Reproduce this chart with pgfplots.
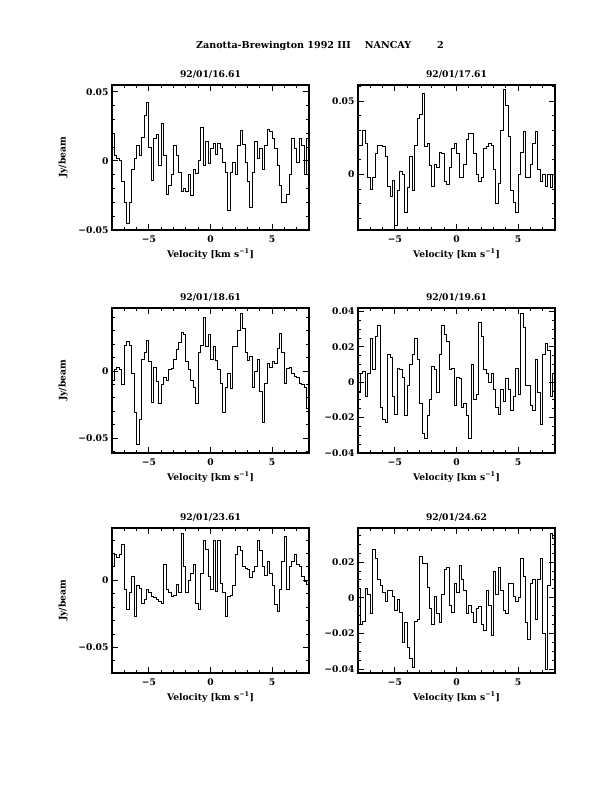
\documentclass[border=0pt]{standalone}
\usepackage{fontspec}
\setmainfont{DejaVu Serif}
\usepackage{pgfplots}
\pgfplotsset{compat=1.18}

\pgfplotsset{
  spec/.style={
    width=197bp, height=145bp, scale only axis,
    anchor=south west,
    xmin=-8, xmax=8,
    xtick={-5,0,5}, xticklabels={−5,0,5},
    minor xtick={-8,-7,...,8},
    xtick pos=both, ytick pos=both,
    xticklabel pos=lower, yticklabel pos=left,
    scaled y ticks=false,
    tick align=inside,
    major tick length=6bp, minor tick length=3bp,
    every tick/.style={black, line width=0.9pt},
    axis line style={line width=1.3pt},
    tick label style={font=\bfseries\fontsize{9.2}{10}\selectfont},
    xticklabel style={yshift=-2.5bp},
    label style={font=\bfseries\fontsize{9.2}{10}\selectfont},
    title style={font=\bfseries\fontsize{9.2}{10}\selectfont, yshift=-3bp},
    xlabel={Velocity [km s\textsuperscript{−1}]},
    xlabel style={yshift=1bp},
    ylabel style={yshift=4bp},
  },
  spec line/.style={const plot, black, line width=0.9pt, mark=none},
}

\begin{document}
\begin{tikzpicture}
\useasboundingbox (0,0) rectangle (612bp,792bp);
\node[font=\bfseries\fontsize{9.6}{10}\selectfont] at (320bp,746bp)
  {Zanotta-Brewington 1992 III\hspace{14bp}NANCAY\hspace{26bp}2};

% row 1, left
\begin{axis}[spec, at={(112bp,562bp)}, title={92/01/16.61},
  ymin=-0.05, ymax=0.055, ytick={-0.05,0,0.05}, yticklabels={−0.05,0,0.05},
  minor ytick={-0.05,-0.04,...,0.05}, ylabel={Jy/beam}]
\addplot[spec line] coordinates {
(-8.0,0.020) (-7.8,0.004) (-7.6,0.002) (-7.4,0.000) (-7.2,-0.015) (-7.0,-0.030)
(-6.8,-0.045) (-6.6,-0.030) (-6.4,-0.006) (-6.2,0.002) (-6.0,0.011) (-5.8,0.004)
(-5.6,0.017) (-5.4,0.033) (-5.2,0.042) (-5.0,0.010) (-4.8,-0.014) (-4.6,0.016)
(-4.4,0.019) (-4.2,-0.003) (-4.0,0.027) (-3.8,0.004) (-3.6,-0.024) (-3.4,-0.018)
(-3.2,-0.010) (-3.0,0.011) (-2.8,0.004) (-2.6,-0.008) (-2.4,-0.022) (-2.2,-0.020)
(-2.0,-0.022) (-1.8,-0.010) (-1.6,-0.025) (-1.4,-0.006) (-1.2,-0.009) (-1.0,0.000)
(-0.8,0.024) (-0.6,-0.003) (-0.4,0.014) (-0.2,-0.002) (0.0,0.009) (0.2,0.013)
(0.4,0.005) (0.6,0.013) (0.8,0.009) (1.0,-0.001) (1.2,-0.008) (1.4,-0.036)
(1.6,-0.008) (1.8,-0.001) (2.0,-0.010) (2.2,0.011) (2.4,0.022) (2.6,0.012)
(2.8,-0.001) (3.0,-0.015) (3.2,-0.034) (3.4,-0.008) (3.6,0.014) (3.8,0.002)
(4.0,0.009) (4.2,-0.006) (4.4,0.011) (4.6,0.023) (4.8,0.021) (5.0,0.016)
(5.2,0.009) (5.4,-0.003) (5.6,-0.018) (5.8,-0.030) (6.0,-0.030) (6.2,-0.024)
(6.4,-0.010) (6.6,0.016) (6.8,0.009) (7.0,-0.001) (7.2,0.016) (7.4,0.011)
(7.6,-0.010) (7.8,0.016) (8.0,0.016)
};
\end{axis}

% row 1, right
\begin{axis}[spec, at={(358bp,562bp)}, title={92/01/17.61},
  ymin=-0.038, ymax=0.061, ytick={0,0.05}, yticklabels={0,0.05},
  minor ytick={-0.03,-0.02,...,0.06}]
\addplot[spec line] coordinates {
(-8.0,0.020) (-7.8,0.020) (-7.6,0.030) (-7.4,0.021) (-7.2,-0.002) (-7.0,-0.010)
(-6.8,-0.002) (-6.6,0.014) (-6.4,0.020) (-6.2,0.020) (-6.0,0.019) (-5.8,0.012)
(-5.6,-0.008) (-5.4,-0.015) (-5.2,-0.004) (-5.0,-0.035) (-4.8,-0.011) (-4.6,0.002)
(-4.4,0.000) (-4.2,-0.026) (-4.0,-0.009) (-3.8,0.012) (-3.6,-0.011) (-3.4,0.020)
(-3.2,0.038) (-3.0,0.041) (-2.8,0.055) (-2.6,0.019) (-2.4,0.021) (-2.2,0.006)
(-2.0,-0.008) (-1.8,0.007) (-1.6,0.005) (-1.4,0.015) (-1.2,0.014) (-1.0,-0.005)
(-0.8,-0.007) (-0.6,0.005) (-0.4,0.018) (-0.2,0.021) (0.0,0.014) (0.2,-0.002)
(0.4,-0.002) (0.6,0.007) (0.8,0.024) (1.0,0.028) (1.2,0.028) (1.4,0.014)
(1.6,0.000) (1.8,-0.005) (2.0,-0.002) (2.2,0.018) (2.4,0.019) (2.6,0.021)
(2.8,0.020) (3.0,0.003) (3.2,-0.020) (3.4,-0.006) (3.6,0.030) (3.8,0.058)
(4.0,0.047) (4.2,0.026) (4.4,-0.011) (4.6,-0.019) (4.8,-0.026) (5.0,0.000)
(5.2,0.015) (5.4,0.029) (5.6,-0.002) (5.8,-0.002) (6.0,0.007) (6.2,0.021)
(6.4,0.029) (6.6,0.003) (6.8,-0.005) (7.0,0.000) (7.2,-0.008) (7.4,0.000)
(7.6,-0.009) (7.8,0.000) (8.0,0.000)
};
\end{axis}

% row 2, left
\begin{axis}[spec, at={(112bp,339bp)}, title={92/01/18.61},
  ymin=-0.061, ymax=0.047, ytick={-0.05,0}, yticklabels={−0.05,0},
  minor ytick={-0.06,-0.05,...,0.04}, ylabel={Jy/beam}]
\addplot[spec line] coordinates {
(-8.0,-0.007) (-7.8,0.001) (-7.6,0.003) (-7.4,0.001) (-7.2,-0.010) (-7.0,0.019)
(-6.8,0.022) (-6.6,0.019) (-6.4,-0.002) (-6.2,-0.031) (-6.0,-0.055) (-5.8,-0.036)
(-5.6,0.009) (-5.4,0.014) (-5.2,0.023) (-5.0,0.007) (-4.8,-0.023) (-4.6,0.003)
(-4.4,-0.008) (-4.2,-0.024) (-4.0,-0.010) (-3.8,-0.005) (-3.6,-0.007) (-3.4,0.001)
(-3.2,0.002) (-3.0,0.009) (-2.8,0.016) (-2.6,0.021) (-2.4,0.029) (-2.2,0.027)
(-2.0,0.007) (-1.8,0.001) (-1.6,-0.007) (-1.4,-0.012) (-1.2,-0.024) (-1.0,0.014)
(-0.8,0.019) (-0.6,0.040) (-0.4,0.018) (-0.2,0.027) (0.0,0.009) (0.2,0.018)
(0.4,0.008) (0.6,0.001) (0.8,-0.009) (1.0,-0.031) (1.2,-0.012) (1.4,-0.002)
(1.6,-0.013) (1.8,0.018) (2.0,0.018) (2.2,0.030) (2.4,0.043) (2.6,0.032)
(2.8,0.014) (3.0,0.008) (3.2,0.011) (3.4,-0.012) (3.6,0.000) (3.8,0.009)
(4.0,-0.015) (4.2,-0.038) (4.4,-0.009) (4.6,0.006) (4.8,0.003) (5.0,0.007)
(5.2,0.006) (5.4,0.017) (5.6,0.028) (5.8,0.014) (6.0,-0.009) (6.2,0.002)
(6.4,0.003) (6.6,-0.002) (6.8,-0.004) (7.0,-0.005) (7.2,-0.009) (7.4,-0.010)
(7.6,-0.012) (7.8,-0.028) (8.0,-0.028)
};
\end{axis}

% row 2, right
\begin{axis}[spec, at={(358bp,339bp)}, title={92/01/19.61},
  ymin=-0.040, ymax=0.042, ytick={-0.04,-0.02,0,0.02,0.04},
  yticklabels={−0.04,−0.02,0,0.02,0.04},
  minor ytick={-0.04,-0.035,...,0.04}]
\addplot[spec line] coordinates {
(-8.0,-0.006) (-7.8,0.005) (-7.6,0.006) (-7.4,-0.008) (-7.2,0.005) (-7.0,0.025)
(-6.8,0.007) (-6.6,0.026) (-6.4,0.032) (-6.2,-0.014) (-6.0,-0.021) (-5.8,-0.023)
(-5.6,0.016) (-5.4,0.014) (-5.2,-0.008) (-5.0,-0.018) (-4.8,0.008) (-4.6,0.007)
(-4.4,0.003) (-4.2,-0.019) (-4.0,-0.002) (-3.8,0.010) (-3.6,0.016) (-3.4,0.025)
(-3.2,0.013) (-3.0,-0.012) (-2.8,-0.029) (-2.6,-0.032) (-2.4,-0.019) (-2.2,-0.010)
(-2.0,0.009) (-1.8,0.007) (-1.6,-0.006) (-1.4,0.016) (-1.2,0.032) (-1.0,0.027)
(-0.8,0.023) (-0.6,0.007) (-0.4,0.008) (-0.2,-0.013) (0.0,0.003) (0.2,0.002)
(0.4,-0.014) (0.6,-0.012) (0.8,-0.019) (1.0,-0.032) (1.2,0.010) (1.4,-0.010)
(1.6,-0.007) (1.8,0.034) (2.0,0.026) (2.2,0.007) (2.4,0.005) (2.6,0.000)
(2.8,0.005) (3.0,-0.004) (3.2,-0.014) (3.4,-0.018) (3.6,-0.004) (3.8,-0.011)
(4.0,0.002) (4.2,-0.004) (4.4,-0.016) (4.6,-0.008) (4.8,0.008) (5.0,-0.007)
(5.2,0.039) (5.4,0.031) (5.6,-0.002) (5.8,-0.002) (6.0,-0.013) (6.2,-0.016)
(6.4,0.013) (6.6,-0.006) (6.8,-0.024) (7.0,0.016) (7.2,0.022) (7.4,0.018)
(7.6,-0.008) (7.8,0.005) (8.0,0.005)
};
\end{axis}

% row 3, left
\begin{axis}[spec, at={(112bp,119bp)}, title={92/01/23.61},
  ymin=-0.069, ymax=0.039, ytick={-0.05,0}, yticklabels={−0.05,0},
  minor ytick={-0.06,-0.05,...,0.03}, ylabel={Jy/beam}]
\addplot[spec line] coordinates {
(-8.0,0.010) (-7.8,0.019) (-7.6,0.017) (-7.4,0.019) (-7.2,0.027) (-7.0,-0.007)
(-6.8,-0.022) (-6.6,-0.009) (-6.4,0.003) (-6.2,-0.027) (-6.0,-0.004) (-5.8,-0.006)
(-5.6,-0.017) (-5.4,-0.014) (-5.2,-0.007) (-5.0,-0.009) (-4.8,-0.012) (-4.6,-0.013)
(-4.4,-0.014) (-4.2,-0.016) (-4.0,-0.017) (-3.8,0.012) (-3.6,-0.007) (-3.4,-0.009)
(-3.2,-0.012) (-3.0,-0.011) (-2.8,-0.003) (-2.6,-0.009) (-2.4,0.035) (-2.2,0.010)
(-2.0,-0.009) (-1.8,0.000) (-1.6,0.005) (-1.4,0.012) (-1.2,-0.017) (-1.0,-0.022)
(-0.8,0.005) (-0.6,0.030) (-0.4,0.023) (-0.2,0.003) (0.0,-0.007) (0.2,0.030)
(0.4,-0.008) (0.6,0.030) (0.8,-0.002) (1.0,-0.009) (1.2,-0.027) (1.4,-0.012)
(1.6,-0.011) (1.8,-0.004) (2.0,0.019) (2.2,0.025) (2.4,0.022) (2.6,0.010)
(2.8,0.009) (3.0,0.008) (3.2,0.002) (3.4,0.007) (3.6,0.010) (3.8,0.030)
(4.0,0.022) (4.2,0.010) (4.4,0.004) (4.6,0.014) (4.8,0.005) (5.0,-0.004)
(5.2,-0.018) (5.4,-0.023) (5.6,-0.007) (5.8,0.014) (6.0,0.033) (6.2,-0.007)
(6.4,0.010) (6.6,0.014) (6.8,0.019) (7.0,0.012) (7.2,0.010) (7.4,0.003)
(7.6,-0.001) (7.8,-0.003) (8.0,-0.003)
};
\end{axis}

% row 3, right
\begin{axis}[spec, at={(358bp,119bp)}, title={92/01/24.62},
  ymin=-0.042, ymax=0.039, ytick={-0.04,-0.02,0,0.02},
  yticklabels={−0.04,−0.02,0,0.02},
  minor ytick={-0.04,-0.035,...,0.035}]
\addplot[spec line] coordinates {
(-8.0,0.005) (-7.8,-0.015) (-7.6,-0.013) (-7.4,0.005) (-7.2,0.002) (-7.0,-0.009)
(-6.8,0.027) (-6.6,0.022) (-6.4,0.010) (-6.2,0.007) (-6.0,0.003) (-5.8,-0.002)
(-5.6,0.004) (-5.4,0.004) (-5.2,0.001) (-5.0,-0.007) (-4.8,-0.001) (-4.6,-0.008)
(-4.4,-0.025) (-4.2,-0.014) (-4.0,-0.028) (-3.8,-0.034) (-3.6,-0.039) (-3.4,-0.013)
(-3.2,-0.012) (-3.0,0.023) (-2.8,0.019) (-2.6,0.019) (-2.4,0.006) (-2.2,-0.006)
(-2.0,-0.015) (-1.8,0.001) (-1.6,-0.009) (-1.4,-0.014) (-1.2,0.002) (-1.0,0.016)
(-0.8,0.017) (-0.6,-0.004) (-0.4,-0.008) (-0.2,0.008) (0.0,0.003) (0.2,0.018)
(0.4,0.010) (0.6,0.004) (0.8,-0.009) (1.0,-0.004) (1.2,-0.008) (1.4,-0.014)
(1.6,-0.006) (1.8,-0.005) (2.0,-0.015) (2.2,-0.018) (2.4,0.004) (2.6,-0.004)
(2.8,-0.021) (3.0,0.015) (3.2,0.002) (3.4,0.017) (3.6,0.004) (3.8,-0.007)
(4.0,-0.009) (4.2,0.008) (4.4,0.008) (4.6,0.001) (4.8,-0.002) (5.0,0.000)
(5.2,0.022) (5.4,0.012) (5.6,-0.014) (5.8,-0.023) (6.0,0.008) (6.2,0.010)
(6.4,-0.012) (6.6,0.010) (6.8,0.022) (7.0,-0.020) (7.2,-0.040) (7.4,0.007)
(7.6,0.036) (7.8,0.033) (8.0,0.033)
};
\end{axis}
\end{tikzpicture}
\end{document}
